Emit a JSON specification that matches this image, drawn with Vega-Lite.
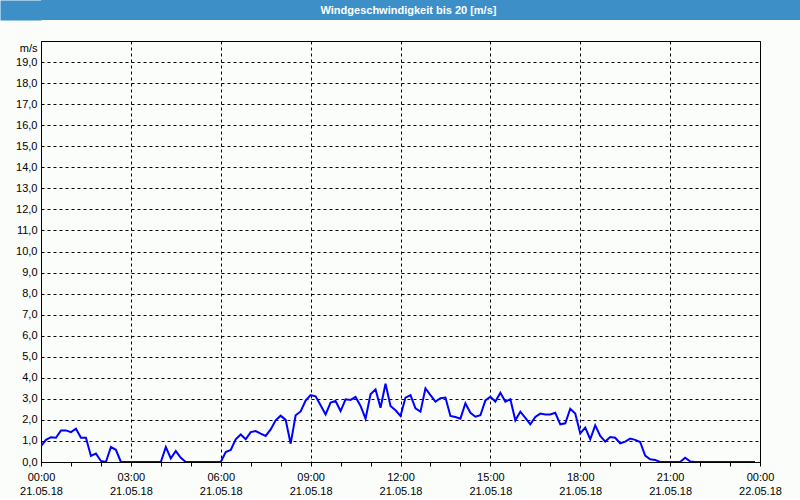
{
  "$schema": "https://vega.github.io/schema/vega-lite/v6.json",
  "background": "#fbfdfb",
  "padding": {"left": -10, "top": 0, "right": 0, "bottom": 0},
  "spacing": 20,
  "config": {
    "font": "Liberation Sans",
    "view": {"stroke": "black", "strokeWidth": 1}
  },
  "vconcat": [
    {
      "width": 759,
      "height": 20,
      "view": {"stroke": null, "fill": "#3d8fc8"},
      "data": {"values": [{"title": "Windgeschwindigkeit bis 20 [m/s]"}]},
      "mark": {"type": "text", "color": "white", "fontWeight": "bold", "fontSize": 11, "align": "center", "baseline": "middle", "dx": -12, "dy": 1},
      "encoding": {
        "text": {"field": "title", "type": "nominal"},
        "y": {
          "field": "title",
          "type": "nominal",
          "axis": {
            "title": null,
            "labels": false,
            "domain": false,
            "grid": false,
            "ticks": true,
            "tickSize": 41,
            "tickWidth": 20,
            "tickColor": "#3d8fc8",
            "tickOpacity": 1,
            "tickCap": "butt",
            "minExtent": 0
          }
        }
      }
    },
    {
      "width": 719,
      "height": 421,
      "data": {"values": [
        {"h": 0.0, "v": 0.75}, {"h": 0.1667, "v": 1.05}, {"h": 0.3333, "v": 1.18}, {"h": 0.5, "v": 1.15},
        {"h": 0.6667, "v": 1.5}, {"h": 0.8333, "v": 1.5}, {"h": 1.0, "v": 1.42}, {"h": 1.1667, "v": 1.58},
        {"h": 1.3333, "v": 1.15}, {"h": 1.5, "v": 1.15}, {"h": 1.6667, "v": 0.29}, {"h": 1.8333, "v": 0.4},
        {"h": 2.0, "v": 0.05}, {"h": 2.1667, "v": 0.0}, {"h": 2.3333, "v": 0.71}, {"h": 2.5, "v": 0.58},
        {"h": 2.6667, "v": 0.0}, {"h": 2.8333, "v": 0.0}, {"h": 3.0, "v": 0.0}, {"h": 3.1667, "v": 0.0},
        {"h": 3.3333, "v": 0.0}, {"h": 3.5, "v": 0.0}, {"h": 3.6667, "v": 0.0}, {"h": 3.8333, "v": 0.0},
        {"h": 4.0, "v": 0.0}, {"h": 4.1667, "v": 0.71}, {"h": 4.3333, "v": 0.17}, {"h": 4.5, "v": 0.52},
        {"h": 4.6667, "v": 0.2}, {"h": 4.8333, "v": 0.0}, {"h": 5.0, "v": 0.0}, {"h": 5.1667, "v": 0.0},
        {"h": 5.3333, "v": 0.0}, {"h": 5.5, "v": 0.0}, {"h": 5.6667, "v": 0.0}, {"h": 5.8333, "v": 0.0},
        {"h": 6.0, "v": 0.0}, {"h": 6.1667, "v": 0.47}, {"h": 6.3333, "v": 0.57}, {"h": 6.5, "v": 1.08},
        {"h": 6.6667, "v": 1.31}, {"h": 6.8333, "v": 1.08}, {"h": 7.0, "v": 1.42}, {"h": 7.1667, "v": 1.47},
        {"h": 7.3333, "v": 1.35}, {"h": 7.5, "v": 1.24}, {"h": 7.6667, "v": 1.55}, {"h": 7.8333, "v": 1.98},
        {"h": 8.0, "v": 2.2}, {"h": 8.1667, "v": 2.0}, {"h": 8.3333, "v": 0.87}, {"h": 8.5, "v": 2.22},
        {"h": 8.6667, "v": 2.4}, {"h": 8.8333, "v": 2.92}, {"h": 9.0, "v": 3.18}, {"h": 9.1667, "v": 3.12},
        {"h": 9.3333, "v": 2.7}, {"h": 9.5, "v": 2.26}, {"h": 9.6667, "v": 2.82}, {"h": 9.8333, "v": 2.9},
        {"h": 10.0, "v": 2.42}, {"h": 10.1667, "v": 2.98}, {"h": 10.3333, "v": 2.95}, {"h": 10.5, "v": 3.09},
        {"h": 10.6667, "v": 2.66}, {"h": 10.8333, "v": 2.06}, {"h": 11.0, "v": 3.22}, {"h": 11.1667, "v": 3.45},
        {"h": 11.3333, "v": 2.58}, {"h": 11.5, "v": 3.72}, {"h": 11.6667, "v": 2.66}, {"h": 11.8333, "v": 2.46},
        {"h": 12.0, "v": 2.19}, {"h": 12.1667, "v": 3.06}, {"h": 12.3333, "v": 3.18}, {"h": 12.5, "v": 2.55},
        {"h": 12.6667, "v": 2.39}, {"h": 12.8333, "v": 3.5}, {"h": 13.0, "v": 3.18}, {"h": 13.1667, "v": 2.87},
        {"h": 13.3333, "v": 3.03}, {"h": 13.5, "v": 3.06}, {"h": 13.6667, "v": 2.19}, {"h": 13.8333, "v": 2.14},
        {"h": 14.0, "v": 2.06}, {"h": 14.1667, "v": 2.79}, {"h": 14.3333, "v": 2.34}, {"h": 14.5, "v": 2.15},
        {"h": 14.6667, "v": 2.22}, {"h": 14.8333, "v": 2.93}, {"h": 15.0, "v": 3.1}, {"h": 15.1667, "v": 2.87},
        {"h": 15.3333, "v": 3.29}, {"h": 15.5, "v": 2.87}, {"h": 15.6667, "v": 2.98}, {"h": 15.8333, "v": 1.98},
        {"h": 16.0, "v": 2.39}, {"h": 16.1667, "v": 2.1}, {"h": 16.3333, "v": 1.79}, {"h": 16.5, "v": 2.14},
        {"h": 16.6667, "v": 2.3}, {"h": 16.8333, "v": 2.26}, {"h": 17.0, "v": 2.26}, {"h": 17.1667, "v": 2.34},
        {"h": 17.3333, "v": 1.79}, {"h": 17.5, "v": 1.84}, {"h": 17.6667, "v": 2.53}, {"h": 17.8333, "v": 2.3},
        {"h": 18.0, "v": 1.36}, {"h": 18.1667, "v": 1.63}, {"h": 18.3333, "v": 1.08}, {"h": 18.5, "v": 1.74},
        {"h": 18.6667, "v": 1.24}, {"h": 18.8333, "v": 0.97}, {"h": 19.0, "v": 1.19}, {"h": 19.1667, "v": 1.15},
        {"h": 19.3333, "v": 0.89}, {"h": 19.5, "v": 0.97}, {"h": 19.6667, "v": 1.11}, {"h": 19.8333, "v": 1.05},
        {"h": 20.0, "v": 0.95}, {"h": 20.1667, "v": 0.3}, {"h": 20.3333, "v": 0.13}, {"h": 20.5, "v": 0.1},
        {"h": 20.6667, "v": 0.0}, {"h": 20.8333, "v": 0.0}, {"h": 21.0, "v": 0.0}, {"h": 21.1667, "v": 0.0},
        {"h": 21.3333, "v": 0.0}, {"h": 21.5, "v": 0.2}, {"h": 21.6667, "v": 0.03}, {"h": 21.8333, "v": 0.0},
        {"h": 22.0, "v": 0.0}, {"h": 22.1667, "v": 0.0}, {"h": 22.3333, "v": 0.0}, {"h": 22.5, "v": 0.0},
        {"h": 22.6667, "v": 0.0}, {"h": 22.8333, "v": 0.0}, {"h": 23.0, "v": 0.0}, {"h": 23.1667, "v": 0.0},
        {"h": 23.3333, "v": 0.0}, {"h": 23.5, "v": 0.0}, {"h": 23.6667, "v": 0.0}, {"h": 23.8333, "v": 0.0}
      ]},
      "mark": {"type": "line", "color": "#0000ff", "strokeWidth": 2, "clip": true},
      "encoding": {
        "x": {
          "field": "h",
          "type": "quantitative",
          "scale": {"domain": [0, 24], "nice": false},
          "axis": {
            "title": null,
            "values": [0, 1, 2, 3, 4, 5, 6, 7, 8, 9, 10, 11, 12, 13, 14, 15, 16, 17, 18, 19, 20, 21, 22, 23, 24],
            "labelExpr": "datum.value % 3 != 0 ? '' : datum.value == 24 ? ['00:00', '22.05.18'] : [(datum.value < 10 ? '0' : '') + datum.value + ':00', '21.05.18']",
            "labelOverlap": false,
            "labelFlush": false,
            "labelFontSize": 11,
            "labelColor": "black",
            "labelPadding": 5,
            "labelLineHeight": 14,
            "labelBaseline": "top",
            "tickSize": 4,
            "tickColor": "black",
            "domainColor": "black",
            "grid": true,
            "gridColor": "black",
            "gridDash": [3, 3],
            "gridOpacity": {"condition": {"test": "datum.value % 3 == 0", "value": 1}, "value": 0}
          }
        },
        "y": {
          "field": "v",
          "type": "quantitative",
          "scale": {"domain": [0, 20], "nice": false},
          "axis": {
            "title": "m/s",
            "titleAngle": 0,
            "titleAlign": "right",
            "titleBaseline": "middle",
            "titleX": -4,
            "titleY": 7,
            "titleFontSize": 11,
            "titleFontWeight": "normal",
            "titleColor": "black",
            "values": [0, 1, 2, 3, 4, 5, 6, 7, 8, 9, 10, 11, 12, 13, 14, 15, 16, 17, 18, 19],
            "labelExpr": "replace(format(datum.value, '.1f'), '.', ',')",
            "labelFontSize": 11,
            "labelColor": "black",
            "labelPadding": 4,
            "ticks": false,
            "domain": false,
            "minExtent": 41,
            "grid": true,
            "gridColor": "black",
            "gridDash": [3, 3],
            "labelOverlap": false
          }
        }
      }
    }
  ]
}
